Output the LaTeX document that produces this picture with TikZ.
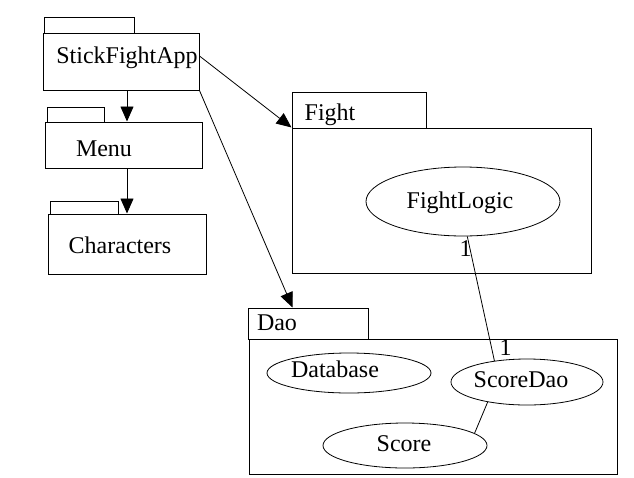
\documentclass[tikz,border=0pt]{standalone}
\usepackage{fontspec}
\setmainfont{Liberation Serif}
\usetikzlibrary{fit,shapes.geometric,arrows.meta}
\begin{document}
\begin{tikzpicture}[x=1pt,y=-1pt,
  pbox/.style={draw,line width=1pt,inner sep=0pt,rectangle},
  ell/.style={draw,line width=0.8pt,ellipse,inner sep=0pt},
  lbl/.style={anchor=base,inner sep=0pt,font=\fontsize{24}{28}\selectfont},
  mult/.style={anchor=base,inner sep=0pt,font=\fontsize{24}{28}\selectfont},
  arr/.style={line width=0.8pt,-{Triangle[length=15pt,width=13pt]}},
  assoc/.style={line width=0.8pt}]
\useasboundingbox (0,0) rectangle (634,477);
% packages
\node[pbox,fit={(44,17) (134,33)}] (apptab) {};
\node[pbox,fit={(43,33) (199,90)}] (app) {};
\node[lbl] (applbl) at (127,63) {StickFightApp};
\node[pbox,fit={(47,107) (104,122)}] (menutab) {};
\node[pbox,fit={(45,122) (202,168)}] (menu) {};
\node[lbl] (menulbl) at (104,156) {Menu};
\node[pbox,fit={(50,201) (118,214)}] (chrtab) {};
\node[pbox,fit={(48,214) (206,274)}] (chr) {};
\node[lbl] (chrlbl) at (120,253) {Characters};
\node[pbox,fit={(292,92) (426,128)}] (fighttab) {};
\node[pbox,fit={(292,128) (591,273)}] (fight) {};
\node[lbl] (fightlbl) at (330,120) {Fight};
\node[pbox,fit={(248,308) (368,339)}] (daotab) {};
\node[pbox,fit={(249,339) (617,474)}] (dao) {};
\node[lbl] (daolbl) at (277,330) {Dao};
% classes
\node[ell,minimum width=194pt,minimum height=69pt] (fl) at (463,201.5) {};
\node[lbl] (fltxt) at (460,208) {FightLogic};
\node[ell,minimum width=164pt,minimum height=40pt] (db) at (349,373) {};
\node[lbl] (dbtxt) at (335,377) {Database};
\node[ell,minimum width=152pt,minimum height=46pt] (sd) at (527,382) {};
\node[lbl] (sdtxt) at (521,387) {ScoreDao};
\node[ell,minimum width=164pt,minimum height=45pt] (sc) at (405,445.5) {};
\node[lbl] (sctxt) at (404,451) {Score};
% dependencies
\draw[arr] (app.south -| chr.north) -- (menu.north -| chr.north);
\draw[arr] (menu.south -| chr.north) -- (chr.north);
\draw[arr] (app.4) -- (fight.north west);
\draw[arr] (app.south east) -- (daotab.134);
% associations
\draw[assoc] (fl.-83) -- (sd.147);
\draw[assoc] (sd.207) -- (sc.10);
\node[mult] (m1) at (465.5,256) {1};
\node[mult] (m2) at (505.5,355) {1};
\end{tikzpicture}
\end{document}
